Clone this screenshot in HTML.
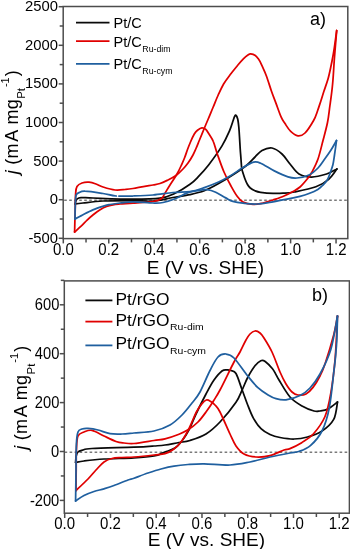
<!DOCTYPE html>
<html><head><meta charset="utf-8"><style>
html,body{margin:0;padding:0;background:#fff;overflow:hidden;}
svg{display:block;will-change:transform;}
text{font-family:"Liberation Sans",sans-serif;fill:#000;}
</style></head><body>
<svg width="350" height="549" viewBox="0 0 350 549">
<rect width="350" height="549" fill="#fff"/>
<line x1="63.2" y1="200.2" x2="347.8" y2="200.2" stroke="#7a7a7a" stroke-width="1.35" stroke-dasharray="2.6 2.4" stroke-dashoffset="4"/>
<path d="M75.2,204.0 C76.5,203.8 78.4,203.5 83.0,203.0 C87.6,202.5 94.7,201.4 103.0,201.0 C111.3,200.6 124.7,200.5 133.0,200.5 C141.3,200.5 146.3,201.7 153.0,201.2 C159.7,200.7 166.8,198.6 173.0,197.5 C179.2,196.4 184.8,195.7 190.0,194.6 C195.2,193.5 199.5,192.6 204.3,190.8 C209.1,189.0 213.5,186.5 218.6,183.6 C223.7,180.7 230.3,176.6 235.0,173.5 C239.7,170.4 243.7,167.8 247.0,165.0 C250.3,162.2 252.5,159.4 255.0,157.0 C257.5,154.6 259.2,152.0 262.0,150.5 C264.8,149.0 268.7,147.4 272.0,148.0 C275.3,148.6 279.0,151.3 282.0,154.0 C285.0,156.7 287.2,160.7 290.0,164.0 C292.8,167.3 295.4,171.8 299.0,174.0 C302.6,176.2 307.0,177.0 311.6,177.0 C316.2,177.0 322.4,175.3 326.6,174.0 C330.8,172.7 335.2,169.8 336.9,169.0" fill="none" stroke="#0a0a0a" stroke-width="1.75" stroke-linejoin="round" stroke-linecap="round"/>
<path d="M336.9,169.0 C335.5,170.7 332.2,176.3 328.7,179.3 C325.2,182.3 321.6,184.7 315.9,186.8 C310.2,188.9 299.9,190.9 294.4,192.0 C288.9,193.1 286.6,193.0 283.0,193.2 C279.4,193.4 276.7,193.5 273.0,193.3 C269.3,193.2 263.6,192.7 260.6,192.3 C257.6,191.9 256.7,191.5 255.0,190.8 C253.3,190.1 251.6,189.1 250.3,188.0 C249.1,186.9 248.3,185.9 247.5,184.5 C246.7,183.1 245.9,181.4 245.2,179.5 C244.4,177.6 243.6,174.9 243.0,173.0 C242.4,171.1 242.0,170.3 241.7,167.8 C241.3,165.3 241.2,161.2 240.9,158.0 C240.7,154.8 240.4,152.3 240.2,148.8 C240.0,145.3 239.7,140.6 239.5,137.0 C239.3,133.4 239.1,130.0 238.8,127.0 C238.5,124.0 238.2,121.0 237.7,119.0 C237.2,117.0 236.4,115.6 235.9,115.2 C235.4,114.8 234.9,115.8 234.4,116.8 C233.9,117.8 233.7,119.1 232.8,121.5 C232.0,123.9 231.1,127.2 229.3,131.3 C227.5,135.4 225.4,140.3 222.0,145.9 C218.6,151.5 212.5,159.9 208.6,165.0 C204.7,170.1 201.7,173.2 198.6,176.4 C195.5,179.6 194.0,181.5 190.0,184.3 C186.0,187.2 179.6,191.2 174.6,193.5 C169.6,195.8 166.9,197.2 160.0,198.2 C153.1,199.1 144.2,199.2 133.0,199.2 C121.8,199.2 101.7,198.3 93.0,198.0 C84.3,197.7 83.7,197.4 81.0,197.6 C78.3,197.8 77.9,198.3 77.0,199.0 C76.1,199.7 75.8,201.2 75.5,202.0 C75.2,202.8 75.2,203.7 75.2,204.0" fill="none" stroke="#0a0a0a" stroke-width="1.75" stroke-linejoin="round" stroke-linecap="round"/>

<path d="M74.6,232.0 C74.7,228.3 75.0,216.3 75.2,210.0 C75.4,203.7 75.3,197.9 75.6,194.0 C75.9,190.1 75.9,188.3 77.0,186.5 C78.1,184.7 80.0,183.7 82.0,183.0 C84.0,182.3 86.7,182.0 89.0,182.2 C91.3,182.4 93.7,183.2 96.0,184.0 C98.3,184.8 99.8,186.0 103.0,187.0 C106.2,188.0 111.3,189.6 115.0,190.0 C118.7,190.4 122.0,189.8 125.0,189.5 C128.0,189.2 128.3,189.2 133.0,188.5 C137.7,187.8 148.5,185.8 153.0,185.0 C157.5,184.2 157.5,184.3 160.0,183.5 C162.5,182.7 165.3,181.3 168.0,180.0 C170.7,178.7 173.5,177.3 176.0,175.5 C178.5,173.7 181.0,171.1 183.0,169.0 C185.0,166.9 186.3,165.3 188.0,163.0 C189.7,160.7 191.7,157.4 193.0,155.0 C194.3,152.6 194.9,151.0 196.0,148.5 C197.1,146.0 198.2,143.1 199.5,140.0 C200.8,136.9 202.2,133.4 203.6,130.0 C205.0,126.6 206.4,123.2 208.0,119.5 C209.6,115.8 211.3,111.5 213.0,107.5 C214.7,103.5 216.2,99.4 218.0,95.5 C219.8,91.6 221.5,87.6 223.6,84.0 C225.7,80.4 228.3,77.2 230.7,74.0 C233.1,70.8 235.8,67.6 237.9,65.0 C240.1,62.4 241.9,60.3 243.6,58.6 C245.3,56.9 246.7,55.8 247.9,55.0 C249.1,54.2 249.5,53.8 250.7,53.9 C251.9,54.0 254.0,54.6 255.3,55.5 C256.6,56.4 257.4,57.5 258.5,59.0 C259.6,60.5 260.3,61.9 261.6,64.8 C262.9,67.7 264.9,71.8 266.5,76.2 C268.1,80.6 269.8,86.3 271.4,91.0 C273.0,95.7 274.7,99.7 276.3,104.1 C277.9,108.5 279.8,114.0 281.2,117.2 C282.6,120.5 283.4,121.2 285.0,123.6 C286.6,126.0 288.6,129.4 290.7,131.4 C292.8,133.4 295.5,135.5 297.9,135.8 C300.3,136.1 302.4,135.6 305.0,133.0 C307.6,130.4 311.5,124.2 313.6,120.5 C315.7,116.8 316.3,114.3 317.5,111.0 C318.7,107.7 319.9,103.8 321.0,100.5 C322.1,97.2 322.8,94.6 324.0,91.0 C325.2,87.4 326.8,83.2 328.0,79.0 C329.2,74.8 330.0,70.8 331.0,66.0 C332.0,61.2 333.1,55.9 334.0,50.0 C334.9,44.1 336.2,33.8 336.7,30.5" fill="none" stroke="#e00000" stroke-width="1.75" stroke-linejoin="round" stroke-linecap="round"/>
<path d="M336.7,30.5 C336.3,34.9 335.2,48.1 334.5,57.0 C333.8,65.9 333.4,76.0 332.6,84.0 C331.9,92.0 330.9,98.6 330.0,105.0 C329.1,111.4 328.7,116.6 327.5,122.5 C326.3,128.4 324.6,134.4 323.0,140.5 C321.4,146.6 319.8,153.8 318.0,159.0 C316.2,164.2 313.8,168.6 312.0,172.0 C310.2,175.4 309.0,176.8 307.0,179.3 C305.0,181.8 302.2,185.1 300.0,187.0 C297.8,188.9 296.7,189.5 294.0,191.0 C291.3,192.5 287.5,194.5 284.0,196.0 C280.5,197.5 276.5,198.8 273.0,200.0 C269.5,201.2 266.3,202.3 263.0,203.0 C259.7,203.7 256.3,204.6 253.0,204.4 C249.7,204.2 245.7,203.4 243.0,202.0 C240.3,200.6 239.0,198.7 237.0,196.0 C235.0,193.3 233.2,190.0 231.0,186.0 C228.8,182.0 226.3,177.3 224.0,172.0 C221.7,166.7 219.1,159.1 217.3,154.0 C215.5,148.9 214.7,144.8 213.3,141.5 C212.0,138.2 210.4,136.3 209.2,134.3 C207.9,132.3 207.0,130.5 205.8,129.4 C204.6,128.3 203.3,127.7 201.9,127.8 C200.5,127.9 198.8,129.2 197.5,130.2 C196.2,131.2 195.4,132.1 194.3,134.0 C193.2,135.9 191.8,138.9 190.7,141.5 C189.6,144.1 188.5,146.8 187.5,149.5 C186.5,152.2 185.6,155.2 184.5,158.0 C183.4,160.8 182.2,163.3 181.0,166.0 C179.8,168.7 178.8,170.8 177.0,174.0 C175.2,177.2 172.1,181.7 170.0,185.0 C167.9,188.3 165.9,191.8 164.5,194.0 C163.1,196.2 163.4,197.2 161.5,198.5 C159.6,199.8 157.8,200.7 153.0,201.5 C148.2,202.3 138.5,202.8 133.0,203.2 C127.5,203.6 123.3,203.7 120.0,204.0 C116.7,204.3 115.2,204.4 113.0,204.8 C110.8,205.2 108.8,205.6 106.6,206.4 C104.4,207.2 102.0,208.5 99.7,209.9 C97.4,211.3 95.0,213.3 92.9,215.0 C90.8,216.7 89.0,218.3 87.1,220.1 C85.2,221.9 83.5,223.9 81.4,225.9 C79.3,227.9 75.7,231.0 74.6,232.0" fill="none" stroke="#e00000" stroke-width="1.75" stroke-linejoin="round" stroke-linecap="round"/>

<path d="M75.0,219.0 C75.0,216.7 75.1,208.9 75.3,205.0 C75.5,201.1 75.4,197.6 76.0,195.5 C76.6,193.4 77.5,193.3 79.0,192.6 C80.5,191.9 81.0,191.0 85.0,191.2 C89.0,191.3 97.8,192.7 103.0,193.5 C108.2,194.3 111.0,195.6 116.0,196.0 C121.0,196.4 126.8,196.2 133.0,196.0 C139.2,195.8 146.3,195.6 153.0,195.0 C159.7,194.4 166.8,193.1 173.0,192.5 C179.2,191.9 184.8,192.4 190.0,191.6 C195.2,190.8 199.5,189.2 204.3,187.6 C209.1,186.0 214.3,183.9 218.6,182.0 C222.9,180.1 225.9,178.4 230.0,176.0 C234.1,173.6 239.1,169.8 243.0,167.5 C246.9,165.2 250.8,162.9 253.7,162.2 C256.6,161.5 257.2,161.8 260.6,163.2 C264.0,164.6 269.7,168.6 274.3,170.9 C278.9,173.2 284.2,175.7 288.0,176.9 C291.8,178.1 293.5,178.3 297.0,178.0 C300.5,177.7 305.5,176.7 309.0,175.0 C312.5,173.3 315.5,170.5 318.0,168.0 C320.5,165.5 321.8,163.0 324.0,160.0 C326.2,157.0 328.9,153.2 331.0,150.0 C333.1,146.8 335.6,142.1 336.5,140.5" fill="none" stroke="#1f5f9f" stroke-width="1.75" stroke-linejoin="round" stroke-linecap="round"/>
<path d="M336.5,140.5 C336.2,142.9 335.1,151.0 334.5,155.0 C333.9,159.0 333.6,161.9 332.9,164.7 C332.2,167.5 331.4,169.5 330.5,172.0 C329.6,174.5 328.7,177.6 327.4,179.8 C326.1,182.1 324.1,183.9 322.5,185.5 C320.9,187.1 320.1,188.1 317.8,189.4 C315.6,190.7 312.0,192.3 309.0,193.5 C306.0,194.7 303.7,195.4 300.0,196.3 C296.3,197.2 291.5,198.3 287.0,199.2 C282.5,200.1 278.0,201.0 273.0,201.8 C268.0,202.6 262.0,203.8 257.0,204.0 C252.0,204.2 247.0,203.6 243.0,203.2 C239.0,202.8 235.8,202.3 232.9,201.4 C230.0,200.5 228.6,199.4 225.7,197.9 C222.8,196.4 218.8,193.6 215.7,192.2 C212.6,190.8 209.7,189.9 207.1,189.6 C204.5,189.3 203.0,189.9 200.0,190.3 C197.0,190.7 193.4,190.8 189.2,192.2 C185.0,193.6 179.0,197.3 174.6,199.0 C170.2,200.7 166.6,201.8 163.0,202.5 C159.4,203.2 158.0,203.1 153.0,203.0 C148.0,202.9 138.5,201.8 133.0,201.8 C127.5,201.8 123.8,202.6 120.0,203.0 C116.2,203.4 112.6,204.0 110.0,204.5 C107.4,205.0 107.1,205.0 104.3,205.9 C101.5,206.8 96.7,208.3 92.9,209.9 C89.1,211.5 84.4,214.1 81.4,215.6 C78.4,217.1 76.1,218.4 75.0,219.0" fill="none" stroke="#1f5f9f" stroke-width="1.75" stroke-linejoin="round" stroke-linecap="round"/>

<line x1="117.6" y1="194.4" x2="117.6" y2="196.9" stroke="#fff" stroke-width="1.3"/>
<rect x="63.2" y="6.5" width="284.6" height="232.1" fill="none" stroke="#4d4d4d" stroke-width="1.5"/>
<line x1="58.7" y1="6.70" x2="63.2" y2="6.70" stroke="#4d4d4d" stroke-width="1.5"/>
<line x1="58.7" y1="45.30" x2="63.2" y2="45.30" stroke="#4d4d4d" stroke-width="1.5"/>
<line x1="58.7" y1="83.90" x2="63.2" y2="83.90" stroke="#4d4d4d" stroke-width="1.5"/>
<line x1="58.7" y1="122.50" x2="63.2" y2="122.50" stroke="#4d4d4d" stroke-width="1.5"/>
<line x1="58.7" y1="161.10" x2="63.2" y2="161.10" stroke="#4d4d4d" stroke-width="1.5"/>
<line x1="58.7" y1="199.70" x2="63.2" y2="199.70" stroke="#4d4d4d" stroke-width="1.5"/>
<line x1="58.7" y1="238.30" x2="63.2" y2="238.30" stroke="#4d4d4d" stroke-width="1.5"/>
<line x1="59.7" y1="26.00" x2="63.2" y2="26.00" stroke="#4d4d4d" stroke-width="1.5"/>
<line x1="59.7" y1="64.60" x2="63.2" y2="64.60" stroke="#4d4d4d" stroke-width="1.5"/>
<line x1="59.7" y1="103.20" x2="63.2" y2="103.20" stroke="#4d4d4d" stroke-width="1.5"/>
<line x1="59.7" y1="141.80" x2="63.2" y2="141.80" stroke="#4d4d4d" stroke-width="1.5"/>
<line x1="59.7" y1="180.40" x2="63.2" y2="180.40" stroke="#4d4d4d" stroke-width="1.5"/>
<line x1="59.7" y1="219.00" x2="63.2" y2="219.00" stroke="#4d4d4d" stroke-width="1.5"/>
<line x1="63.30" y1="238.6" x2="63.30" y2="243.4" stroke="#4d4d4d" stroke-width="1.5"/>
<line x1="86.03" y1="238.6" x2="86.03" y2="242.4" stroke="#4d4d4d" stroke-width="1.5"/>
<line x1="108.76" y1="238.6" x2="108.76" y2="243.4" stroke="#4d4d4d" stroke-width="1.5"/>
<line x1="131.49" y1="238.6" x2="131.49" y2="242.4" stroke="#4d4d4d" stroke-width="1.5"/>
<line x1="154.22" y1="238.6" x2="154.22" y2="243.4" stroke="#4d4d4d" stroke-width="1.5"/>
<line x1="176.95" y1="238.6" x2="176.95" y2="242.4" stroke="#4d4d4d" stroke-width="1.5"/>
<line x1="199.68" y1="238.6" x2="199.68" y2="243.4" stroke="#4d4d4d" stroke-width="1.5"/>
<line x1="222.41" y1="238.6" x2="222.41" y2="242.4" stroke="#4d4d4d" stroke-width="1.5"/>
<line x1="245.14" y1="238.6" x2="245.14" y2="243.4" stroke="#4d4d4d" stroke-width="1.5"/>
<line x1="267.87" y1="238.6" x2="267.87" y2="242.4" stroke="#4d4d4d" stroke-width="1.5"/>
<line x1="290.60" y1="238.6" x2="290.60" y2="243.4" stroke="#4d4d4d" stroke-width="1.5"/>
<line x1="313.33" y1="238.6" x2="313.33" y2="242.4" stroke="#4d4d4d" stroke-width="1.5"/>
<line x1="336.06" y1="238.6" x2="336.06" y2="243.4" stroke="#4d4d4d" stroke-width="1.5"/>
<line x1="64.3" y1="452.2" x2="349.4" y2="452.2" stroke="#7a7a7a" stroke-width="1.35" stroke-dasharray="2.6 2.4" stroke-dashoffset="4.7"/>
<path d="M75.6,462.4 C75.7,461.3 75.8,457.7 76.2,456.0 C76.6,454.3 77.0,453.0 78.0,452.0 C79.0,451.0 80.1,450.8 82.4,450.2 C84.7,449.6 83.4,449.0 92.0,448.5 C100.6,448.0 123.7,447.6 134.0,447.2 C144.3,446.8 148.8,446.4 154.0,446.0 C159.2,445.6 160.8,445.6 165.0,445.0 C169.2,444.4 174.8,443.2 179.0,442.5 C183.2,441.8 185.5,441.9 190.0,440.5 C194.5,439.1 201.0,437.1 206.0,434.0 C211.0,430.9 215.0,427.3 220.0,422.0 C225.0,416.7 232.4,407.5 236.0,402.3 C239.6,397.1 239.9,394.8 241.8,390.7 C243.8,386.6 245.5,381.6 247.7,377.5 C249.9,373.4 252.8,368.6 255.0,365.8 C257.2,363.0 259.1,361.4 260.8,360.7 C262.5,360.0 263.2,360.1 265.2,361.5 C267.1,362.9 270.7,366.6 272.5,368.8 C274.3,371.0 274.9,372.7 276.0,374.6 C277.1,376.5 276.7,376.3 279.0,380.0 C281.3,383.7 286.2,392.7 290.0,397.0 C293.8,401.3 298.0,403.7 302.0,406.0 C306.0,408.3 311.0,410.2 314.0,411.0 C317.0,411.8 317.7,411.3 320.0,411.0 C322.3,410.7 325.1,410.5 328.0,409.0 C330.9,407.5 335.9,403.2 337.5,402.0" fill="none" stroke="#0a0a0a" stroke-width="1.75" stroke-linejoin="round" stroke-linecap="round"/>
<path d="M337.5,402.0 C336.9,404.9 336.3,414.6 333.7,419.4 C331.1,424.2 326.4,428.1 322.0,431.0 C317.6,433.9 312.2,435.7 307.5,437.0 C302.8,438.3 298.6,438.9 294.0,439.0 C289.4,439.1 284.0,438.2 280.0,437.5 C276.0,436.8 273.2,436.0 270.0,434.5 C266.8,433.0 263.8,431.3 261.0,428.6 C258.2,425.9 255.7,422.3 253.5,418.4 C251.3,414.5 249.6,409.9 247.7,405.0 C245.8,400.1 243.8,394.2 241.8,389.0 C239.9,383.8 237.8,376.6 236.0,373.5 C234.2,370.4 232.5,371.1 231.0,370.5 C229.5,369.9 228.5,369.7 227.0,369.8 C225.5,369.9 224.2,369.3 222.0,371.0 C219.8,372.7 216.7,376.2 214.0,380.0 C211.3,383.8 209.0,388.3 206.0,394.0 C203.0,399.7 198.8,408.1 196.0,414.0 C193.2,419.9 191.6,424.9 189.3,429.3 C187.0,433.8 184.4,437.6 182.0,440.7 C179.6,443.8 177.8,446.1 175.0,448.0 C172.2,449.9 168.5,450.7 165.0,452.0 C161.5,453.3 159.2,455.0 154.0,456.0 C148.8,457.0 142.3,457.5 134.0,458.0 C125.7,458.5 112.3,458.5 104.0,459.0 C95.7,459.5 88.7,460.4 84.0,461.0 C79.3,461.6 77.0,462.2 75.6,462.4" fill="none" stroke="#0a0a0a" stroke-width="1.75" stroke-linejoin="round" stroke-linecap="round"/>

<path d="M76.0,490.5 C76.0,487.1 76.1,476.8 76.2,470.0 C76.3,463.2 76.1,455.7 76.4,450.0 C76.7,444.3 76.7,439.0 78.0,436.0 C79.3,433.0 81.7,432.9 84.0,432.0 C86.3,431.1 88.7,429.7 92.0,430.4 C95.3,431.1 100.0,434.1 104.0,436.0 C108.0,437.9 112.7,440.3 116.0,441.5 C119.3,442.7 121.0,442.7 124.0,443.0 C127.0,443.3 129.0,443.9 134.0,443.5 C139.0,443.1 148.8,441.3 154.0,440.5 C159.2,439.7 160.8,439.9 165.0,438.8 C169.2,437.8 175.2,435.7 179.0,434.2 C182.8,432.7 184.8,431.8 188.0,429.8 C191.2,427.8 195.0,425.0 198.0,422.0 C201.0,419.0 203.4,415.6 206.0,412.0 C208.6,408.4 211.3,404.4 213.6,400.7 C215.9,397.0 216.6,396.4 220.0,390.0 C223.4,383.6 230.7,368.3 234.0,362.0 C237.3,355.7 238.0,355.7 240.0,352.0 C242.0,348.3 244.3,343.0 246.0,340.0 C247.7,337.0 248.5,335.5 250.0,334.0 C251.5,332.5 253.3,331.2 255.0,331.0 C256.7,330.8 258.5,331.8 260.0,333.0 C261.5,334.2 262.0,334.8 264.0,338.0 C266.0,341.2 269.3,346.3 272.0,352.0 C274.7,357.7 277.7,366.7 280.0,372.0 C282.3,377.3 284.0,380.7 286.0,384.0 C288.0,387.3 290.0,390.2 292.0,392.0 C294.0,393.8 295.7,394.7 298.0,395.0 C300.3,395.3 303.5,395.3 306.0,394.0 C308.5,392.7 310.7,390.4 313.0,387.4 C315.3,384.4 318.0,379.9 320.0,376.0 C322.0,372.1 322.7,370.8 325.0,364.0 C327.3,357.2 331.6,343.0 333.7,335.0 C335.8,327.0 336.9,319.2 337.5,316.0" fill="none" stroke="#e00000" stroke-width="1.75" stroke-linejoin="round" stroke-linecap="round"/>
<path d="M337.5,316.0 C337.1,323.0 336.3,345.1 335.2,358.0 C334.1,370.9 332.5,383.4 330.8,393.2 C329.1,402.9 327.9,409.7 325.0,416.5 C322.1,423.3 317.2,429.6 313.3,434.0 C309.4,438.4 305.6,440.3 301.7,442.7 C297.8,445.1 292.9,447.4 290.0,448.6 C287.1,449.8 287.3,448.8 284.0,450.0 C280.7,451.2 274.7,454.4 270.0,455.6 C265.3,456.8 260.3,457.3 256.0,457.0 C251.7,456.7 247.3,455.8 244.0,454.0 C240.7,452.2 238.3,449.3 236.0,446.0 C233.7,442.7 232.7,439.7 230.0,434.0 C227.3,428.3 222.5,416.8 220.0,412.0 C217.5,407.2 216.6,406.8 215.0,405.0 C213.4,403.2 212.1,402.2 210.7,401.4 C209.3,400.6 207.8,399.6 206.4,400.0 C205.0,400.4 203.7,401.6 202.0,403.6 C200.3,405.6 198.5,407.9 196.4,412.0 C194.3,416.1 191.7,423.2 189.3,428.0 C186.9,432.8 184.6,437.1 182.0,440.7 C179.4,444.2 176.4,447.1 173.6,449.3 C170.8,451.5 168.3,452.7 165.0,453.6 C161.7,454.6 159.2,454.4 154.0,455.0 C148.8,455.6 139.3,456.6 134.0,457.0 C128.7,457.4 125.7,457.2 122.0,457.5 C118.3,457.8 115.0,457.8 112.0,458.5 C109.0,459.2 106.7,460.1 104.0,462.0 C101.3,463.9 98.7,467.2 96.0,470.0 C93.3,472.8 91.3,475.6 88.0,479.0 C84.7,482.4 78.0,488.6 76.0,490.5" fill="none" stroke="#e00000" stroke-width="1.75" stroke-linejoin="round" stroke-linecap="round"/>

<path d="M75.6,501.0 C75.7,495.8 75.9,479.5 76.0,470.0 C76.1,460.5 76.1,450.3 76.4,444.0 C76.7,437.7 77.1,434.5 78.0,432.0 C78.9,429.5 80.3,429.6 82.0,429.0 C83.7,428.4 85.3,428.2 88.0,428.4 C90.7,428.6 94.3,429.1 98.0,430.0 C101.7,430.9 106.0,432.9 110.0,433.6 C114.0,434.3 118.0,434.1 122.0,434.0 C126.0,433.9 128.7,433.5 134.0,433.0 C139.3,432.5 148.0,432.3 154.0,431.0 C160.0,429.7 165.3,427.7 170.0,425.0 C174.7,422.3 178.3,418.7 182.0,415.0 C185.7,411.3 189.0,406.8 192.0,403.0 C195.0,399.2 197.0,397.4 200.0,392.0 C203.0,386.6 207.0,376.3 210.0,370.5 C213.0,364.7 215.3,359.8 218.0,357.0 C220.7,354.2 223.3,353.8 226.0,354.0 C228.7,354.2 230.4,354.3 234.0,358.0 C237.6,361.7 243.7,371.1 247.7,376.0 C251.7,380.9 254.5,384.5 257.9,387.7 C261.3,390.9 265.1,393.2 268.1,395.0 C271.1,396.8 273.0,397.9 276.0,398.7 C279.0,399.5 282.0,400.3 286.0,399.8 C290.0,399.3 296.0,397.5 300.0,395.5 C304.0,393.5 306.7,391.6 310.0,388.0 C313.3,384.4 316.5,380.4 320.0,374.0 C323.5,367.6 327.9,359.2 330.8,349.5 C333.7,339.8 336.4,321.6 337.5,316.0" fill="none" stroke="#1f5f9f" stroke-width="1.75" stroke-linejoin="round" stroke-linecap="round"/>
<path d="M337.5,316.0 C337.4,320.0 337.1,333.2 336.8,340.0 C336.5,346.8 336.0,351.5 335.5,357.0 C335.0,362.5 334.7,364.3 333.7,372.8 C332.7,381.3 331.2,398.1 329.3,407.8 C327.4,417.5 325.1,424.7 322.0,431.0 C318.9,437.3 314.3,442.2 310.4,445.6 C306.5,449.0 302.1,450.3 298.7,451.5 C295.3,452.7 294.8,452.1 290.0,453.0 C285.2,453.9 276.7,455.5 270.0,457.0 C263.3,458.5 256.7,460.7 250.0,462.0 C243.3,463.3 237.7,464.7 230.0,465.0 C222.3,465.3 211.0,463.9 204.0,463.8 C197.0,463.7 193.0,464.1 188.0,464.5 C183.0,464.9 178.5,465.4 174.0,466.2 C169.5,466.9 165.3,467.9 161.0,469.0 C156.7,470.1 152.5,471.5 148.0,473.0 C143.5,474.5 137.3,477.0 134.0,478.2 C130.7,479.4 131.3,478.8 128.0,480.0 C124.7,481.2 118.0,484.0 114.0,485.5 C110.0,487.0 107.3,487.8 104.0,488.8 C100.7,489.8 97.3,490.4 94.0,491.5 C90.7,492.6 87.1,493.9 84.0,495.5 C80.9,497.1 77.0,500.1 75.6,501.0" fill="none" stroke="#1f5f9f" stroke-width="1.75" stroke-linejoin="round" stroke-linecap="round"/>

<rect x="64.3" y="280.9" width="285.1" height="232.3" fill="none" stroke="#4d4d4d" stroke-width="1.5"/>
<line x1="59.8" y1="304.80" x2="64.3" y2="304.80" stroke="#4d4d4d" stroke-width="1.5"/>
<line x1="59.8" y1="353.70" x2="64.3" y2="353.70" stroke="#4d4d4d" stroke-width="1.5"/>
<line x1="59.8" y1="402.60" x2="64.3" y2="402.60" stroke="#4d4d4d" stroke-width="1.5"/>
<line x1="59.8" y1="451.50" x2="64.3" y2="451.50" stroke="#4d4d4d" stroke-width="1.5"/>
<line x1="59.8" y1="500.40" x2="64.3" y2="500.40" stroke="#4d4d4d" stroke-width="1.5"/>
<line x1="60.8" y1="280.35" x2="64.3" y2="280.35" stroke="#4d4d4d" stroke-width="1.5"/>
<line x1="60.8" y1="329.25" x2="64.3" y2="329.25" stroke="#4d4d4d" stroke-width="1.5"/>
<line x1="60.8" y1="378.15" x2="64.3" y2="378.15" stroke="#4d4d4d" stroke-width="1.5"/>
<line x1="60.8" y1="427.05" x2="64.3" y2="427.05" stroke="#4d4d4d" stroke-width="1.5"/>
<line x1="60.8" y1="475.95" x2="64.3" y2="475.95" stroke="#4d4d4d" stroke-width="1.5"/>
<line x1="64.70" y1="513.2" x2="64.70" y2="518.0" stroke="#4d4d4d" stroke-width="1.5"/>
<line x1="87.58" y1="513.2" x2="87.58" y2="517.0" stroke="#4d4d4d" stroke-width="1.5"/>
<line x1="110.46" y1="513.2" x2="110.46" y2="518.0" stroke="#4d4d4d" stroke-width="1.5"/>
<line x1="133.34" y1="513.2" x2="133.34" y2="517.0" stroke="#4d4d4d" stroke-width="1.5"/>
<line x1="156.22" y1="513.2" x2="156.22" y2="518.0" stroke="#4d4d4d" stroke-width="1.5"/>
<line x1="179.10" y1="513.2" x2="179.10" y2="517.0" stroke="#4d4d4d" stroke-width="1.5"/>
<line x1="201.98" y1="513.2" x2="201.98" y2="518.0" stroke="#4d4d4d" stroke-width="1.5"/>
<line x1="224.86" y1="513.2" x2="224.86" y2="517.0" stroke="#4d4d4d" stroke-width="1.5"/>
<line x1="247.74" y1="513.2" x2="247.74" y2="518.0" stroke="#4d4d4d" stroke-width="1.5"/>
<line x1="270.62" y1="513.2" x2="270.62" y2="517.0" stroke="#4d4d4d" stroke-width="1.5"/>
<line x1="293.50" y1="513.2" x2="293.50" y2="518.0" stroke="#4d4d4d" stroke-width="1.5"/>
<line x1="316.38" y1="513.2" x2="316.38" y2="517.0" stroke="#4d4d4d" stroke-width="1.5"/>
<line x1="339.26" y1="513.2" x2="339.26" y2="518.0" stroke="#4d4d4d" stroke-width="1.5"/>
<text x="58.0" y="11.1" font-size="14.8" text-anchor="end" >2500</text>
<text x="58.0" y="49.7" font-size="14.8" text-anchor="end" >2000</text>
<text x="58.0" y="88.3" font-size="14.8" text-anchor="end" >1500</text>
<text x="58.0" y="126.9" font-size="14.8" text-anchor="end" >1000</text>
<text x="58.0" y="165.5" font-size="14.8" text-anchor="end" >500</text>
<text x="58.0" y="204.1" font-size="14.8" text-anchor="end" >0</text>
<text x="58.0" y="242.7" font-size="14.8" text-anchor="end" >-500</text>
<text transform="translate(63.30,255.40) scale(1.000,1.060)" font-size="15.0" text-anchor="middle" >0.0</text>
<text transform="translate(108.76,255.40) scale(1.000,1.060)" font-size="15.0" text-anchor="middle" >0.2</text>
<text transform="translate(154.22,255.40) scale(1.000,1.060)" font-size="15.0" text-anchor="middle" >0.4</text>
<text transform="translate(199.68,255.40) scale(1.000,1.060)" font-size="15.0" text-anchor="middle" >0.6</text>
<text transform="translate(245.14,255.40) scale(1.000,1.060)" font-size="15.0" text-anchor="middle" >0.8</text>
<text transform="translate(290.60,255.40) scale(1.000,1.060)" font-size="15.0" text-anchor="middle" >1.0</text>
<text transform="translate(336.06,255.40) scale(1.000,1.060)" font-size="15.0" text-anchor="middle" >1.2</text>
<text x="146.7" y="273.5" font-size="18.0" text-anchor="start" textLength="117.3" lengthAdjust="spacingAndGlyphs">E (V vs. SHE)</text>
<text transform="translate(59.30,309.90) scale(1.000,1.110)" font-size="14.7" text-anchor="end" >600</text>
<text transform="translate(59.30,358.80) scale(1.000,1.110)" font-size="14.7" text-anchor="end" >400</text>
<text transform="translate(59.30,407.70) scale(1.000,1.110)" font-size="14.7" text-anchor="end" >200</text>
<text transform="translate(59.30,456.60) scale(1.000,1.110)" font-size="14.7" text-anchor="end" >0</text>
<text transform="translate(59.30,505.50) scale(1.000,1.110)" font-size="14.7" text-anchor="end" >-200</text>
<text transform="translate(64.70,528.80) scale(1.000,1.110)" font-size="15.0" text-anchor="middle" >0.0</text>
<text transform="translate(110.46,528.80) scale(1.000,1.110)" font-size="15.0" text-anchor="middle" >0.2</text>
<text transform="translate(156.22,528.80) scale(1.000,1.110)" font-size="15.0" text-anchor="middle" >0.4</text>
<text transform="translate(201.98,528.80) scale(1.000,1.110)" font-size="15.0" text-anchor="middle" >0.6</text>
<text transform="translate(247.74,528.80) scale(1.000,1.110)" font-size="15.0" text-anchor="middle" >0.8</text>
<text transform="translate(293.50,528.80) scale(1.000,1.110)" font-size="15.0" text-anchor="middle" >1.0</text>
<text transform="translate(339.26,528.80) scale(1.000,1.110)" font-size="15.0" text-anchor="middle" >1.2</text>
<text x="147.8" y="545.6" font-size="18.0" text-anchor="start" textLength="117.3" lengthAdjust="spacingAndGlyphs">E (V vs. SHE)</text>
<g transform="translate(17.8,176.7) rotate(-90)"><text x="2.5" y="0" font-size="18" font-style="italic">j</text><text x="12.0" y="0" font-size="18">(</text><text x="18.3" y="0" font-size="18">m</text><text x="35.0" y="0" font-size="18">A</text><text x="52.1" y="0" font-size="18">m</text><text x="67.4" y="0" font-size="18">g</text><text x="77.9" y="7.1" font-size="11.5">Pt</text><text x="89.6" y="-9.2" font-size="11">-1</text><text x="100.5" y="0" font-size="18">)</text></g>
<g transform="translate(27.4,452.3) rotate(-90)"><text x="2.5" y="0" font-size="18" font-style="italic">j</text><text x="12.0" y="0" font-size="18">(</text><text x="18.3" y="0" font-size="18">m</text><text x="35.0" y="0" font-size="18">A</text><text x="52.1" y="0" font-size="18">m</text><text x="67.4" y="0" font-size="18">g</text><text x="77.9" y="7.1" font-size="11.5">Pt</text><text x="89.6" y="-9.2" font-size="11">-1</text><text x="100.5" y="0" font-size="18">)</text></g>
<line x1="76.0" y1="22.7" x2="109.5" y2="22.7" stroke="#0a0a0a" stroke-width="1.8"/>
<text x="113.5" y="28.1" font-size="14.5" >Pt/C</text>
<line x1="76.0" y1="41.2" x2="109.5" y2="41.2" stroke="#e00000" stroke-width="1.8"/>
<text x="113.5" y="46.6" font-size="14.5" >Pt/C</text>
<text x="142.3" y="51.9" font-size="8.8" >Ru-dim</text>
<line x1="76.0" y1="63.9" x2="109.5" y2="63.9" stroke="#1f5f9f" stroke-width="1.8"/>
<text x="113.5" y="69.1" font-size="14.5" >Pt/C</text>
<text x="142.3" y="74.4" font-size="8.8" >Ru-cym</text>
<line x1="85.4" y1="300.4" x2="112.4" y2="300.4" stroke="#0a0a0a" stroke-width="1.8"/>
<text x="115.5" y="305.0" font-size="16.5" textLength="54.0" lengthAdjust="spacingAndGlyphs">Pt/rGO</text>
<line x1="85.4" y1="321.6" x2="112.4" y2="321.6" stroke="#e00000" stroke-width="1.8"/>
<text x="115.5" y="325.5" font-size="16.5" textLength="54.0" lengthAdjust="spacingAndGlyphs">Pt/rGO</text>
<text x="170.1" y="330.3" font-size="9.2" textLength="33.6" lengthAdjust="spacingAndGlyphs">Ru-dim</text>
<line x1="85.4" y1="345.4" x2="112.4" y2="345.4" stroke="#1f5f9f" stroke-width="1.8"/>
<text x="115.5" y="349.3" font-size="16.5" textLength="54.0" lengthAdjust="spacingAndGlyphs">Pt/rGO</text>
<text x="170.1" y="354.1" font-size="9.2" textLength="35.9" lengthAdjust="spacingAndGlyphs">Ru-cym</text>
<text x="310.0" y="25.4" font-size="18.0" text-anchor="start" >a)</text>
<text x="312.0" y="300.6" font-size="18.0" text-anchor="start" >b)</text>
</svg></body></html>
